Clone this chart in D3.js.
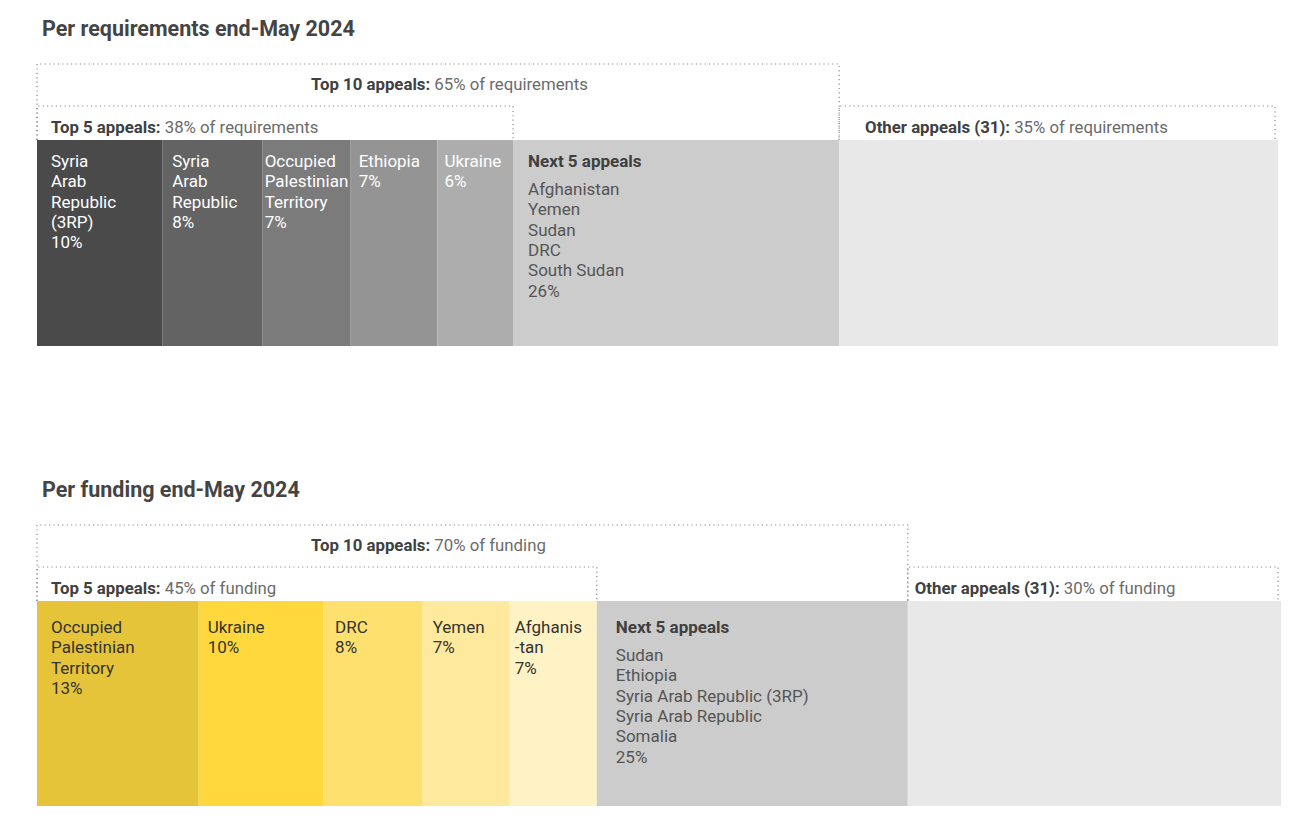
<!DOCTYPE html>
<html>
<head>
<meta charset="utf-8">
<script src="https://cdn.jsdelivr.net/npm/d3@7"></script>
<style>
  html, body { margin: 0; padding: 0; background: #fff; }
  svg { display: block; font-family: Roboto, "Noto Sans", sans-serif; }
</style>
</head>
<body>
<svg id="chart" width="1315" height="832"></svg>
<script>
// ---------- DATA ----------
const reqTitle = "Per requirements end-May 2024";
const reqCategories = ["Syria Arab Republic (3RP)", "Syria Arab Republic", "Occupied Palestinian Territory", "Ethiopia", "Ukraine", "Next 5 appeals", "Other appeals (31)"];
const reqValues = [10.1, 8.1, 7.1, 7.0, 6.1, 26.3, 35.4];
const reqLabels = [
  ["Syria", "Arab", "Republic", "(3RP)", "10%"],
  ["Syria", "Arab", "Republic", "8%"],
  ["Occupied", "Palestinian", "Territory", "7%"],
  ["Ethiopia", "7%"],
  ["Ukraine", "6%"],
  [],
  []
];
const reqNextList = ["Afghanistan", "Yemen", "Sudan", "DRC", "South Sudan", "26%"];
const reqColors = ["#4a4a4a", "#636363", "#7b7b7b", "#949494", "#adadad", "#cccccc", "#e8e8e8"];
const reqGroups = [
  { bold: "Top 10 appeals:", rest: " 65% of requirements", from: 0, to: 6, level: 2 },
  { bold: "Top 5 appeals:", rest: " 38% of requirements", from: 0, to: 5, level: 1 },
  { bold: "Other appeals (31):", rest: " 35% of requirements", from: 6, to: 7, level: 1 }
];

const fundTitle = "Per funding end-May 2024";
const fundCategories = ["Occupied Palestinian Territory", "Ukraine", "DRC", "Yemen", "Afghanistan", "Next 5 appeals", "Other appeals (31)"];
const fundValues = [13, 10, 8, 7, 7, 25, 30];
const fundLabels = [
  ["Occupied", "Palestinian", "Territory", "13%"],
  ["Ukraine", "10%"],
  ["DRC", "8%"],
  ["Yemen", "7%"],
  ["Afghanis", "-tan", "7%"],
  [],
  []
];
const fundNextList = ["Sudan", "Ethiopia", "Syria Arab Republic (3RP)", "Syria Arab Republic", "Somalia", "25%"];
const fundColors = ["#e6c43a", "#fed83d", "#fee06e", "#fee99c", "#fff2c4", "#cccccc", "#e8e8e8"];
const fundGroups = [
  { bold: "Top 10 appeals:", rest: " 70% of funding", from: 0, to: 6, level: 2 },
  { bold: "Top 5 appeals:", rest: " 45% of funding", from: 0, to: 5, level: 1 },
  { bold: "Other appeals (31):", rest: " 30% of funding", from: 6, to: 7, level: 1 }
];

// ---------- LAYOUT ----------
const svg = d3.select("#chart");

function drawPanel(cfg) {
  const g = svg.append("g");
  const total = d3.sum(cfg.values);
  const x = d3.scaleLinear().domain([0, total]).range([cfg.x0, cfg.x1]);
  const cum = [0];
  cfg.values.forEach((v, i) => cum.push(cum[i] + v));

  // title
  g.append("text")
    .attr("x", 42).attr("y", cfg.titleY)
    .attr("font-size", 21.5).attr("font-weight", 700)
    .attr("fill", "#444")
    .text(cfg.title);

  // bars
  g.selectAll("rect.seg").data(cfg.values).join("rect")
    .attr("class", "seg")
    .attr("x", (d, i) => x(cum[i]))
    .attr("y", cfg.barY)
    .attr("width", (d, i) => x(cum[i + 1]) - x(cum[i]))
    .attr("height", cfg.barH)
    .attr("fill", (d, i) => cfg.colors[i]);

  // dotted group boxes
  cfg.groups.forEach((gr, k) => {
    const gx0 = x(cum[gr.from]);
    let gx1 = x(cum[gr.to]);
    if (gr.to === cfg.values.length) gx1 -= 3;
    const top = gr.level === 2 ? cfg.barY - 76 : cfg.barY - 34;
    const path = d3.path();
    path.moveTo(gx0, cfg.barY);
    path.lineTo(gx0, top);
    path.lineTo(gx1, top);
    path.lineTo(gx1, cfg.barY);
    g.append("path")
      .attr("d", path.toString())
      .attr("fill", "none")
      .attr("stroke", "#8a8a8a")
      .attr("stroke-width", 1.2)
      .attr("stroke-dasharray", "1.2,3.2");
    const tx = gx0 + cfg.groupPad[k];
    const ty = gr.level === 2 ? top + 26 : top + 27;
    const t = g.append("text")
      .attr("x", tx).attr("y", ty)
      .attr("font-size", 16.8);
    t.append("tspan").attr("font-weight", 700).attr("fill", "#404040").text(gr.bold);
    t.append("tspan").attr("fill", "#6b6b6b").text(gr.rest);
  });

  // segment labels
  cfg.labels.forEach((lines, i) => {
    if (!lines.length) return;
    const t = g.append("text")
      .attr("font-size", 17)
      .attr("fill", cfg.labelColor[i]);
    lines.forEach((ln, j) => {
      t.append("tspan")
        .attr("x", x(cum[i]) + cfg.labelPad[i])
        .attr("y", cfg.barY + cfg.labelY0 + j * 20.3)
        .text(ln);
    });
  });

  // next 5 block
  const ni = 5;
  const nx = x(cum[ni]) + cfg.labelPad[ni];
  g.append("text")
    .attr("x", nx).attr("y", cfg.barY + cfg.labelY0)
    .attr("font-size", 17).attr("font-weight", 700)
    .attr("fill", "#404040")
    .text(cfg.categories[ni]);
  const nt = g.append("text").attr("font-size", 17).attr("fill", "#555");
  cfg.nextList.forEach((ln, j) => {
    nt.append("tspan")
      .attr("x", nx)
      .attr("y", cfg.barY + cfg.labelY0 + 28 + j * 20.3)
      .text(ln);
  });
}

drawPanel({
  title: reqTitle, titleY: 36,
  values: reqValues, categories: reqCategories, labels: reqLabels,
  nextList: reqNextList, colors: reqColors, groups: reqGroups,
  x0: 37, x1: 1278, barY: 140, barH: 206,
  labelY0: 27,
  groupPad: [274, 14, 26],
  labelPad: [14, 10, 2, 8, 7, 15, 0],
  labelColor: ["#fff", "#fff", "#fff", "#fff", "#fff", "#404040", "#404040"]
});

drawPanel({
  title: fundTitle, titleY: 497,
  values: fundValues, categories: fundCategories, labels: fundLabels,
  nextList: fundNextList, colors: fundColors, groups: fundGroups,
  x0: 37, x1: 1281, barY: 601, barH: 205,
  labelY0: 32,
  groupPad: [274, 14, 7],
  labelPad: [14, 9, 12, 10, 5, 19, 0],
  labelColor: ["#333", "#333", "#333", "#333", "#333", "#404040", "#404040"]
});
</script>
</body>
</html>
